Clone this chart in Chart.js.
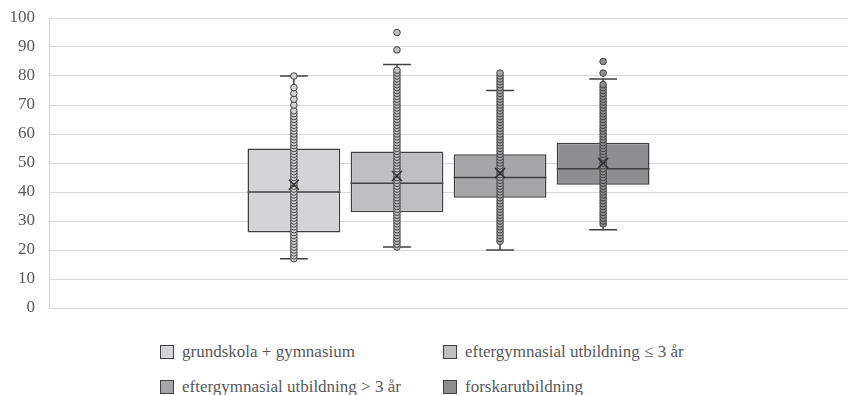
<!DOCTYPE html>
<html>
<head>
<meta charset="utf-8">
<script src="https://cdn.jsdelivr.net/npm/chart.js@4.4.1/dist/chart.umd.min.js"></script>
<style>
body { margin: 0; background: #fff; width: 850px; height: 395px; overflow: hidden; font-family: "Liberation Serif", "DejaVu Serif", serif; }
#wrap { position: absolute; left: 0; top: 0; width: 850px; height: 321px; }
#legend { position: absolute; left: 160px; top: 342px; display: grid; grid-template-columns: 283px auto; row-gap: 15px; font-size: 17px; color: #595959; }
#legend div { display: flex; align-items: center; height: 20px; white-space: nowrap; }
#legend span.box { display: inline-block; width: 12px; height: 12px; border: 1px solid #404040; margin-right: 8px; }
</style>
</head>
<body>
<div id="wrap"><canvas id="myChart"></canvas></div>
<div id="legend"></div>
<script>
var series = ['grundskola + gymnasium', 'eftergymnasial utbildning ≤ 3 år',
    'eftergymnasial utbildning > 3 år', 'forskarutbildning'];
var colors = ['#d4d4d6', '#bfbfc2', '#a6a6a9', '#8e8e90'];
var yTicks = [0, 10, 20, 30, 40, 50, 60, 70, 80, 90, 100];

var q1 = [26, 33, 38, 42.5];
var q3 = [55, 54, 53, 57];
var median = [40, 43, 45, 48];
var mean = [42.5, 45.5, 46.5, 50];
var whiskerLow = [17, 21, 20, 27];
var whiskerHigh = [80, 84, 75, 79];

var points1 = [17, 18, 19, 20, 21, 22, 23, 24, 25, 26, 27, 28, 29, 30, 31, 32, 33, 34, 35, 36,
    37, 38, 39, 40, 41, 42, 43, 44, 45, 46, 47, 48, 49, 50, 51, 52, 53, 54, 55, 56,
    57, 58, 59, 60, 61, 62, 63, 64, 65, 66, 67, 68, 70, 72, 74, 76, 80];
var points2 = [21, 22, 23, 24, 25, 26, 27, 28, 29, 30, 31, 32, 33, 34, 35, 36, 37, 38, 39, 40,
    41, 42, 43, 44, 45, 46, 47, 48, 49, 50, 51, 52, 53, 54, 55, 56, 57, 58, 59, 60,
    61, 62, 63, 64, 65, 66, 67, 68, 69, 70, 71, 72, 73, 74, 75, 76, 77, 78, 79, 80,
    81, 82, 89, 95];
var points3 = [23, 24, 25, 26, 27, 28, 29, 30, 31, 32, 33, 34, 35, 36, 37, 38, 39, 40, 41, 42,
    43, 44, 45, 46, 47, 48, 49, 50, 51, 52, 53, 54, 55, 56, 57, 58, 59, 60, 61, 62,
    63, 64, 65, 66, 67, 68, 69, 70, 71, 72, 73, 74, 75, 76, 77, 78, 79, 80, 81];
var points4 = [29, 30, 31, 32, 33, 34, 35, 36, 37, 38, 39, 40, 41, 42, 43, 44, 45, 46, 47, 48,
    49, 50, 51, 52, 53, 54, 55, 56, 57, 58, 59, 60, 61, 62, 63, 64, 65, 66, 67, 68,
    69, 70, 71, 72, 73, 74, 75, 76, 77, 81, 85];
var points = [points1, points2, points3, points4];

// median, whiskers, inner points and mean marker on top of the floating bars
var boxExtras = {
    id: 'boxExtras',
    afterDatasetsDraw: function(chart) {
        var ctx = chart.ctx, y = chart.scales.y;
        ctx.save();
        chart.data.datasets.forEach(function(ds, i) {
            var bar = chart.getDatasetMeta(i).data[0];
            var cx = bar.x, half = bar.width / 2, cap = bar.width * 0.15;
            ctx.strokeStyle = '#404040';
            ctx.lineWidth = 1.5;
            ctx.beginPath();
            ctx.moveTo(cx - half, y.getPixelForValue(median[i]));
            ctx.lineTo(cx + half, y.getPixelForValue(median[i]));
            ctx.moveTo(cx, y.getPixelForValue(q1[i]));
            ctx.lineTo(cx, y.getPixelForValue(whiskerLow[i]));
            ctx.moveTo(cx, y.getPixelForValue(q3[i]));
            ctx.lineTo(cx, y.getPixelForValue(whiskerHigh[i]));
            ctx.moveTo(cx - cap, y.getPixelForValue(whiskerLow[i]));
            ctx.lineTo(cx + cap, y.getPixelForValue(whiskerLow[i]));
            ctx.moveTo(cx - cap, y.getPixelForValue(whiskerHigh[i]));
            ctx.lineTo(cx + cap, y.getPixelForValue(whiskerHigh[i]));
            ctx.stroke();

            ctx.lineWidth = 1;
            ctx.fillStyle = colors[i];
            points[i].forEach(function(v) {
                ctx.beginPath();
                ctx.arc(cx, y.getPixelForValue(v), 3.3, 0, Math.PI * 2);
                ctx.fill();
                ctx.stroke();
            });

            var my = y.getPixelForValue(mean[i]), s = 5;
            ctx.lineWidth = 1.5;
            ctx.strokeStyle = '#303030';
            ctx.beginPath();
            ctx.moveTo(cx - s, my - s); ctx.lineTo(cx + s, my + s);
            ctx.moveTo(cx + s, my - s); ctx.lineTo(cx - s, my + s);
            ctx.stroke();
        });
        ctx.restore();
    }
};

var datasets = series.map(function(name, i) {
    return {
        label: name,
        data: [[q1[i], q3[i]]],
        backgroundColor: colors[i],
        borderColor: '#404040',
        borderWidth: 1.5,
        borderSkipped: false,
        barPercentage: 0.9,
        categoryPercentage: 0.516
    };
});

var ctx = document.getElementById('myChart');
var myChart = new Chart(ctx, {
    type: 'bar',
    data: { labels: [''], datasets: datasets },
    options: {
        responsive: true,
        maintainAspectRatio: false,
        animation: false,
        layout: { padding: { top: 18, right: 2, bottom: 13, left: 0 } },
        plugins: { legend: { display: false }, tooltip: { enabled: false } },
        scales: {
            x: { display: false },
            y: {
                min: 0, max: 100,
                afterBuildTicks: function(scale) {
                    scale.ticks = yTicks.map(function(v) { return { value: v }; });
                },
                afterFit: function(scale) {
                    scale.width = 49;
                    scale.paddingTop = 0;
                    scale.paddingBottom = 0;
                },
                grid: { color: '#d9d9d9', lineWidth: 1, drawTicks: false },
                border: { display: true, color: '#d9d9d9' },
                ticks: { padding: 14, color: '#595959', font: { family: 'Liberation Serif', size: 17 } }
            }
        }
    },
    plugins: [boxExtras]
});

var legend = document.getElementById('legend');
myChart.data.datasets.forEach(function(ds) {
    var item = document.createElement('div');
    var box = document.createElement('span');
    box.className = 'box';
    box.style.background = ds.backgroundColor;
    item.appendChild(box);
    item.appendChild(document.createTextNode(ds.label));
    legend.appendChild(item);
});
</script>
</body>
</html>
